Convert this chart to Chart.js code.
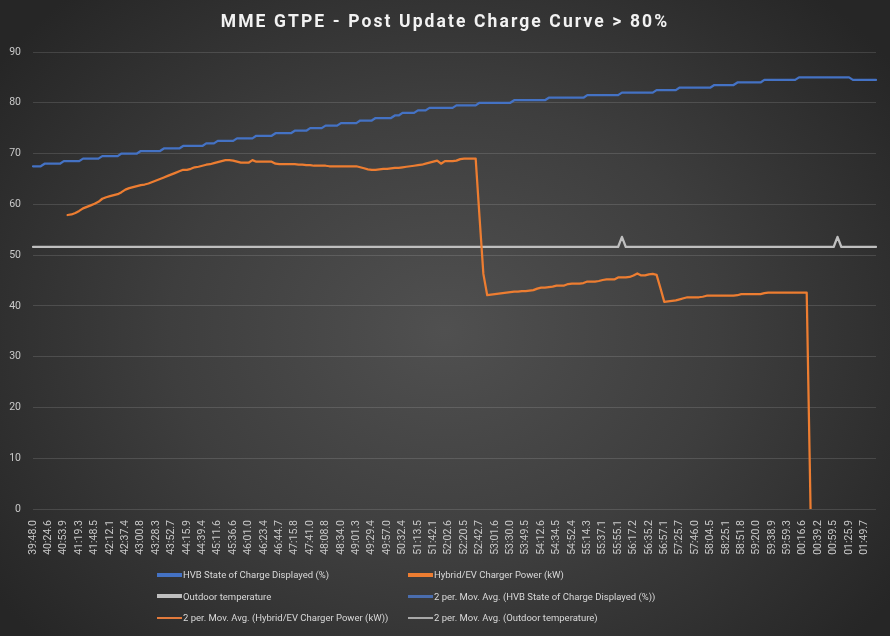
<!DOCTYPE html>
<html>
<head>
<meta charset="utf-8">
<script src="https://cdn.jsdelivr.net/npm/chart.js@4.4.1/dist/chart.umd.min.js"></script>
<style>
html,body{margin:0;padding:0;background:#2a2a2a;}
#wrap{position:relative;width:890px;height:636px;overflow:hidden;
  background:radial-gradient(ellipse 62% 72% at 50% 52%, #505050 0%, #3e3e3e 50%, #262626 100%);}
#c{position:absolute;left:0;top:0;}
#legend{position:absolute;left:157px;top:564px;display:grid;grid-template-columns:251px 251px;grid-auto-rows:21.5px;
  font-family:Roboto, sans-serif;font-size:9.5px;color:#d9d9d9;}
.li{display:flex;align-items:center;white-space:nowrap;}
.mk{display:inline-block;width:25px;margin-right:1px;}
</style>
</head>
<body>
<div id="wrap"><canvas id="c" width="890" height="636"></canvas><div id="legend"></div></div>
<script>
const chartTitle = "MME GTPE - Post Update Charge Curve > 80%";

const tickLabels = ["39:48.0","40:24.6","40:53.9","41:19.3","41:48.5","42:12.1","42:37.4","43:00.8","43:28.3","43:52.7",
  "44:15.9","44:39.4","45:11.6","45:36.6","46:01.0","46:23.4","46:44.7","47:15.8","47:41.0","48:08.8",
  "48:34.0","49:01.3","49:29.4","49:57.0","50:32.4","51:13.5","51:42.1","52:02.6","52:20.5","52:42.7",
  "53:01.6","53:30.0","53:49.5","54:12.6","54:34.5","54:52.4","55:14.3","55:37.1","55:55.1","56:17.2",
  "56:35.2","56:57.1","57:25.7","57:46.0","58:04.5","58:25.1","58:51.8","59:20.0","59:38.9","59:59.3",
  "00:16.6","00:39.2","00:59.5","01:25.9","01:49.7"];
const pointsPerLabel = 4;

const seriesNames = ["HVB State of Charge Displayed (%)","Hybrid/EV Charger Power (kW)","Outdoor temperature"];

const socValues = [
  67.5,67.5,67.5,68,68,68,68,68,68.5,68.5,
  68.5,68.5,68.5,69,69,69,69,69,69.5,69.5,
  69.5,69.5,69.5,70,70,70,70,70,70.5,70.5,
  70.5,70.5,70.5,70.5,71,71,71,71,71,71.5,
  71.5,71.5,71.5,71.5,71.5,72,72,72,72.5,72.5,
  72.5,72.5,72.5,73,73,73,73,73,73.5,73.5,
  73.5,73.5,73.5,74,74,74,74,74,74.5,74.5,
  74.5,74.5,75,75,75,75,75.5,75.5,75.5,75.5,
  76,76,76,76,76,76.5,76.5,76.5,76.5,77,
  77,77,77,77,77.5,77.5,78,78,78,78,
  78.5,78.5,78.5,79,79,79,79,79,79,79,
  79.5,79.5,79.5,79.5,79.5,79.5,80,80,80,80,
  80,80,80,80,80,80.5,80.5,80.5,80.5,80.5,
  80.5,80.5,80.5,80.5,81,81,81,81,81,81,
  81,81,81,81,81.5,81.5,81.5,81.5,81.5,81.5,
  81.5,81.5,81.5,82,82,82,82,82,82,82,
  82,82,82.5,82.5,82.5,82.5,82.5,82.5,83,83,
  83,83,83,83,83,83,83,83.5,83.5,83.5,
  83.5,83.5,83.5,84,84,84,84,84,84,84,
  84.5,84.5,84.5,84.5,84.5,84.5,84.5,84.5,84.5,85,
  85,85,85,85,85,85,85,85,85,85,
  85,85,85,84.5,84.5,84.5,84.5,84.5,84.5,84.5
];

const powerValues = [
  null,null,null,null,null,null,null,null,null,57.9,
  58.0,58.3,58.7,59.2,59.5,59.8,60.1,60.5,61.1,61.4,
  61.6,61.8,62.0,62.4,62.9,63.2,63.4,63.6,63.8,63.9,
  64.1,64.4,64.7,65.0,65.3,65.6,65.9,66.2,66.5,66.8,
  66.8,67.0,67.3,67.4,67.6,67.8,67.9,68.1,68.3,68.5,
  68.7,68.7,68.6,68.4,68.2,68.2,68.2,68.7,68.4,68.4,
  68.4,68.4,68.4,68.0,67.9,67.9,67.9,67.9,67.9,67.8,
  67.8,67.7,67.7,67.6,67.6,67.6,67.6,67.5,67.5,67.5,
  67.5,67.5,67.5,67.5,67.5,67.3,67.1,66.9,66.8,66.8,
  66.9,67.0,67.0,67.1,67.2,67.2,67.3,67.4,67.5,67.6,
  67.7,67.8,68.0,68.2,68.4,68.6,68.0,68.5,68.5,68.5,
  68.6,68.9,69.0,69.0,69.0,69.0,57.5,46.3,42.1,42.2,
  42.3,42.4,42.5,42.6,42.7,42.8,42.8,42.9,42.9,43.0,
  43.1,43.4,43.6,43.6,43.7,43.8,44.0,44.0,44.0,44.3,
  44.4,44.4,44.4,44.5,44.8,44.8,44.8,44.9,45.1,45.2,
  45.2,45.2,45.6,45.6,45.6,45.7,46.0,46.4,46.0,46.0,
  46.2,46.3,46.1,43.5,40.8,40.9,41.0,41.1,41.3,41.5,
  41.7,41.7,41.7,41.7,41.8,42.0,42.0,42.0,42.0,42.0,
  42.0,42.0,42.0,42.1,42.3,42.3,42.3,42.3,42.3,42.3,
  42.5,42.6,42.6,42.6,42.6,42.6,42.6,42.6,42.6,42.6,
  42.6,42.6,0,null,null,null,null,null,null,null,
  null,null,null,null,null,null,null,null,null,null
];

const tempValues = [
  51.6,51.6,51.6,51.6,51.6,51.6,51.6,51.6,51.6,51.6,51.6,51.6,51.6,51.6,51.6,51.6,51.6,51.6,51.6,51.6,
  51.6,51.6,51.6,51.6,51.6,51.6,51.6,51.6,51.6,51.6,51.6,51.6,51.6,51.6,51.6,51.6,51.6,51.6,51.6,51.6,
  51.6,51.6,51.6,51.6,51.6,51.6,51.6,51.6,51.6,51.6,51.6,51.6,51.6,51.6,51.6,51.6,51.6,51.6,51.6,51.6,
  51.6,51.6,51.6,51.6,51.6,51.6,51.6,51.6,51.6,51.6,51.6,51.6,51.6,51.6,51.6,51.6,51.6,51.6,51.6,51.6,
  51.6,51.6,51.6,51.6,51.6,51.6,51.6,51.6,51.6,51.6,51.6,51.6,51.6,51.6,51.6,51.6,51.6,51.6,51.6,51.6,
  51.6,51.6,51.6,51.6,51.6,51.6,51.6,51.6,51.6,51.6,51.6,51.6,51.6,51.6,51.6,51.6,51.6,51.6,51.6,51.6,
  51.6,51.6,51.6,51.6,51.6,51.6,51.6,51.6,51.6,51.6,51.6,51.6,51.6,51.6,51.6,51.6,51.6,51.6,51.6,51.6,
  51.6,51.6,51.6,51.6,51.6,51.6,51.6,51.6,51.6,51.6,51.6,51.6,51.6,53.6,51.6,51.6,51.6,51.6,51.6,51.6,
  51.6,51.6,51.6,51.6,51.6,51.6,51.6,51.6,51.6,51.6,51.6,51.6,51.6,51.6,51.6,51.6,51.6,51.6,51.6,51.6,
  51.6,51.6,51.6,51.6,51.6,51.6,51.6,51.6,51.6,51.6,51.6,51.6,51.6,51.6,51.6,51.6,51.6,51.6,51.6,51.6,
  51.6,51.6,51.6,51.6,51.6,51.6,51.6,51.6,51.6,53.6,51.6,51.6,51.6,51.6,51.6,51.6,51.6,51.6,51.6,51.6
];

const yTicks = {min: 0, max: 90, step: 10};

// category axis: a visible label every few points
const categories = socValues.map((_, i) => (i % pointsPerLabel === 0 && tickLabels[i / pointsPerLabel]) ? tickLabels[i / pointsPerLabel] : "");

// Excel "2 per. Mov. Avg." trendline (it sits under the series line in the source picture)
function movingAvg2(arr){
  return arr.map((v, i) => (i > 0 && v != null && arr[i-1] != null) ? (v + arr[i-1]) / 2 : null);
}

const styles = [
  {color:"#4472C4", width:2.25, mk:4,   order:1, hidden:false},
  {color:"#ED7D31", width:2.25, mk:4,   order:1, hidden:false},
  {color:"#BFBFBF", width:2.25, mk:4,   order:1, hidden:false},
  {color:"#4A6DAE", width:1.5,  mk:2.5, order:2, hidden:true},
  {color:"#E27A3C", width:1.5,  mk:2.5, order:2, hidden:true},
  {color:"#A8A8A8", width:1.5,  mk:2.5, order:2, hidden:true}
];

const baseSeries = [socValues, powerValues, tempValues];
const dsList = [];
baseSeries.forEach((arr, k) => dsList.push({label: seriesNames[k], data: arr}));
baseSeries.forEach((arr, k) => dsList.push({label: "2 per. Mov. Avg. (" + seriesNames[k] + ")", data: movingAvg2(arr)}));
const datasets = dsList.map((d, k) => ({
  label: d.label, data: d.data,
  borderColor: styles[k].color, backgroundColor: styles[k].color,
  borderWidth: styles[k].width, pointRadius: 0, pointHoverRadius: 0,
  tension: 0, fill: false, spanGaps: false, order: styles[k].order,
  hidden: styles[k].hidden,
  borderJoinStyle: "round", borderCapStyle: "round"
}));

Chart.defaults.font.family = "Roboto, 'Noto Sans', sans-serif";

const spacedTitle = {
  id: "spacedTitle",
  beforeDraw(chart){
    const tb = chart.titleBlock;
    if (tb && !tb._spaced){
      const orig = tb.draw.bind(tb);
      tb.draw = function(area){
        const ctx = this.ctx;
        ctx.save();
        ctx.letterSpacing = "2.1px";
        orig(area);
        ctx.restore();
      };
      tb._spaced = true;
    }
  }
};

const chart = new Chart(document.getElementById("c"), {
  type: "line",
  data: {labels: categories, datasets},
  plugins: [spacedTitle],
  options: {
    responsive: false,
    animation: false,
    events: [],
    layout: {padding: {top: 0, left: 0, right: 0, bottom: 79}},
    plugins: {
      legend: {display: false},
      tooltip: {enabled: false},
      title: {
        display: true, text: chartTitle, color: "#f2f2f2",
        font: {size: 17.5, weight: "bold", family: "Roboto, 'Noto Sans', sans-serif"},
        padding: {top: 12, bottom: 19}
      }
    },
    scales: {
      x: {
        type: "category", offset: false,
        grid: {display: false, drawTicks: false},
        border: {display: false},
        ticks: {autoSkip: false, maxRotation: 90, minRotation: 90, padding: 11,
                color: "#c9c9c9", font: {size: 10.5}},
        afterFit(axis){ axis.height = 48; axis.paddingRight = 14; axis.paddingLeft = 0; }
      },
      y: {
        min: yTicks.min, max: yTicks.max,
        grid: {color: "rgba(255,255,255,0.13)", lineWidth: 1, drawTicks: false},
        border: {display: false},
        ticks: {stepSize: yTicks.step, padding: 12, color: "#c9c9c9", font: {size: 10.5}},
        afterFit(axis){ axis.width = 33; }
      }
    }
  }
});
chart.draw();

// two-column legend, as in the source (lists every series, trendlines included)
const legend = document.getElementById("legend");
chart.data.datasets.forEach((d, k) => {
  const item = document.createElement("div");
  item.className = "li";
  const mk = document.createElement("span");
  mk.className = "mk";
  mk.style.height = styles[k].mk + "px";
  mk.style.background = d.borderColor;
  const tx = document.createElement("span");
  tx.textContent = d.label;
  item.appendChild(mk); item.appendChild(tx);
  legend.appendChild(item);
});
</script>
</body>
</html>
